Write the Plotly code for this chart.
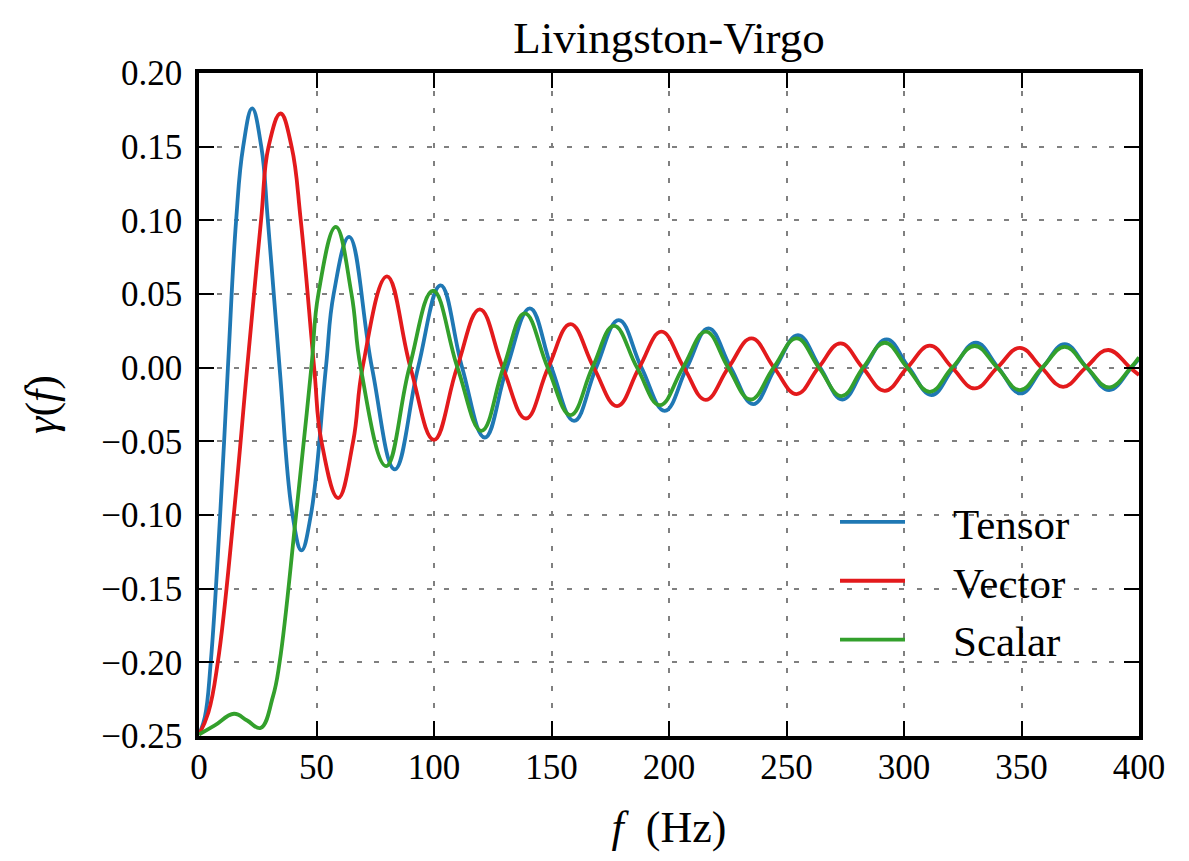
import plotly.graph_objects as go

# ---- data ----
tensor_f = [0, 2.5, 5.0, 9.0, 12.3, 15.8, 18.8, 22.6, 26.5, 29.3, 34.3, 39.8, 43.6, 47.6,
            54.0, 57.3, 63.9, 73.6, 83.3, 93.2, 102.8, 112.0,
            121.6, 131.0, 140.8, 150.0, 159.6, 169.0, 178.6, 188.3, 198.2, 207.6, 216.8,
            226.3, 235.8, 245.3, 254.9, 264.3, 273.8, 283.2, 292.6, 302.1, 311.7, 321.1,
            330.6, 340.1, 349.6, 359.0, 368.4, 377.8, 387.3, 396.7, 400]
tensor_g = [-0.249, -0.237, -0.20, -0.10, 0.0, 0.10, 0.15, 0.176, 0.15, 0.10, 0.0, -0.10,
            -0.124, -0.10, 0.0, 0.05, 0.0888, 0.0, -0.069, 0.0,
            0.0558, 0.0, -0.0474, 0.0, 0.0403, 0.0, -0.0361, 0.0, 0.0323, 0.0, -0.0293, 0.0,
            0.0267, 0.0, -0.0247, 0.0, 0.0221, 0.0, -0.0216, 0.0, 0.0192, 0.0, -0.0186, 0.0,
            0.0169, 0.0, -0.0175, 0.0, 0.016, 0.0, -0.0152, 0.0, 0.006]

vector_f = [0, 4.0, 8.0, 14.8, 20.5, 26.4, 29.6, 34.7, 39.4, 43.3, 49.0, 52.1, 59.2,
            65.6, 69.6, 80.0, 90.0, 100.0, 109.8, 119.5, 129.3, 139.1,
            148.6, 158.1, 168.0, 177.9, 187.3, 196.8, 206.4, 215.6, 225.3, 235.1, 244.7,
            254.3, 263.6, 273.0, 282.4, 291.8, 301.4, 311.0, 320.5, 330.1, 339.7, 349.3,
            358.5, 367.7, 377.3, 386.9, 396.2, 400]
vector_g = [-0.249, -0.234, -0.20, -0.10, 0.0, 0.10, 0.15, 0.1725, 0.15, 0.10, 0.0,
            -0.05, -0.0885, -0.05, 0.0, 0.062, 0.0, -0.049, 0.0, 0.0396,
            0.0, -0.0345, 0.0, 0.0296, 0.0, -0.0261, 0.0, 0.0244, 0.0, -0.0218, 0.0, 0.0199,
            0.0, -0.0179, 0.0, 0.0165, 0.0, -0.0157, 0.0, 0.0149, 0.0, -0.0141, 0.0, 0.0135,
            0.0, -0.013, 0.0, 0.012, 0.0, -0.005]

scalar_f = [0, 6.7, 14.9, 20.5, 26.2, 31.4, 34.3, 41.3, 47.8, 50.8, 58.2, 64.9,
            68.8, 79.6, 89.5, 99.6, 110.0, 120.2, 129.5, 138.6, 148.4, 158.1, 167.4, 176.6,
            186.4, 196.1, 205.9, 215.7, 225.2, 234.7, 244.5, 254.3, 263.8, 273.4, 282.6,
            291.8, 301.4, 311.0, 320.5, 330.1, 339.7, 349.3, 358.8, 368.4, 377.8, 387.3,
            396.5, 400]
scalar_g = [-0.249, -0.2428, -0.2349, -0.2395, -0.2446, -0.2236, -0.20, -0.10, 0.0,
            0.05, 0.0955, 0.05, 0.0, -0.0668, 0.0, 0.0522, 0.0, -0.0429, 0.0, 0.0369, 0.0,
            -0.0322, 0.0, 0.0283, 0.0, -0.0254, 0.0, 0.0244, 0.0, -0.0216, 0.0, 0.0199, 0.0,
            -0.0193, 0.0, 0.0169, 0.0, -0.0164, 0.0, 0.0147, 0.0, -0.0152, 0.0, 0.0141, 0.0,
            -0.0134, 0.0, 0.007]

x_ticks = [0, 50, 100, 150, 200, 250, 300, 350, 400]
x_tick_text = ["0", "50", "100", "150", "200", "250", "300", "350", "400"]
y_ticks = [0.20, 0.15, 0.10, 0.05, 0.0, -0.05, -0.10, -0.15, -0.20, -0.25]
y_tick_text = ["0.20", "0.15", "0.10", "0.05", "0.00", "\u22120.05", "\u22120.10",
               "\u22120.15", "\u22120.20", "\u22120.25"]

series = [("Tensor", tensor_f, tensor_g, "#1f78b4"),
          ("Vector", vector_f, vector_g, "#e31a1c"),
          ("Scalar", scalar_f, scalar_g, "#33a02c")]

FONT = "Liberation Serif"
PAD = "&nbsp;" * 4

fig = go.Figure()
for name, fx, gy, col in series:
    fig.add_trace(go.Scatter(x=fx, y=gy, name=PAD + name, mode="lines",
                             line=dict(color=col, width=3.8, shape="spline", smoothing=1.2)))

axis_common = dict(
    showline=True, linecolor="black", linewidth=3.5, mirror="ticks",
    ticks="inside", ticklen=15, tickwidth=2, tickcolor="black",
    showgrid=True, gridcolor="#808080", gridwidth=2, griddash="5px,12.5px",
    zeroline=False, tickfont=dict(family=FONT, size=35, color="black"),
)

fig.update_layout(
    width=1189, height=861,
    margin=dict(l=199, r=50, t=73, b=125),
    paper_bgcolor="white", plot_bgcolor="white",
    title=dict(text="Livingston-Virgo", x=0.5, xref="paper", xanchor="center",
               y=1 - 37 / 861, yanchor="middle", yref="container",
               font=dict(family=FONT, size=45, color="black")),
    xaxis=dict(range=[0, 400], tickvals=x_ticks, ticktext=x_tick_text,
               ticklabelstandoff=-3,
               title=dict(text="<i>f</i>&nbsp;&nbsp;(Hz)", standoff=26,
                          font=dict(family=FONT, size=44, color="black")),
               **axis_common),
    yaxis=dict(range=[-0.25, 0.20], tickvals=y_ticks, ticktext=y_tick_text,
               ticklabelstandoff=6,
               title=dict(text="<i>\u03b3</i>(<i>f</i>)", standoff=32,
                          font=dict(family=FONT, size=44, color="black")),
               **axis_common),
    legend=dict(x=0.6766, y=0.375, xanchor="left", yanchor="top",
                bgcolor="rgba(255,255,255,0)", borderwidth=0,
                font=dict(family=FONT, size=43, color="black"),
                itemwidth=65),
    showlegend=True,
)

fig.write_html("out.html")
